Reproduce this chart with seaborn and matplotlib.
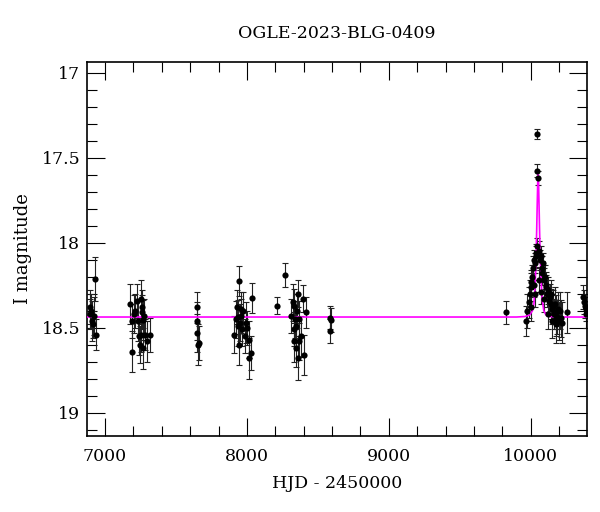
import numpy as np
import pandas as pd
import matplotlib
matplotlib.use("Agg")
import matplotlib.pyplot as plt
import seaborn as sns
from matplotlib.ticker import MultipleLocator

# ---- data ----
hjd = [6891, 6896, 6902, 6910, 6915, 6929, 6936, 6920,
       7176, 7188, 7192, 7205, 7212, 7224, 7230, 7236, 7254, 7258, 7262, 7266,
       7250, 7246, 7268, 7282, 7294, 7318, 7272,
       7647, 7651, 7649, 7663, 7658,
       7912, 7930, 7947, 7940, 7952, 7935, 7965, 7947, 7960, 7975, 7985, 8012,
       8018, 8030, 8035, 7925, 7955, 7990, 8000,
       8214, 8270,
       8311, 8324, 8330, 8357, 8340, 8345, 8335, 8329, 8364, 8360, 8395, 8400,
       8419, 8350, 8370, 8380, 8345,
       8588, 8590, 8583,
       9823,
       9965, 9975, 9985, 9993, 9999, 10005, 10011, 10016, 10022, 10028, 10035,
       10040, 10046, 10046, 10046, 10053, 10058, 10064, 10070, 10070, 10076,
       10081, 10087, 10093, 10099, 10105, 10111, 10117, 10122, 10128, 10134,
       10140, 10146, 10152, 10158, 10164, 10170, 10175, 10181, 10187, 10193,
       10200, 10205, 10211, 10222, 10253, 10030, 10020, 10060, 10090, 10120,
       10150, 10180, 10000,
       10365, 10376, 10382, 10388, 10392]
mag = [18.376, 18.42, 18.40, 18.46, 18.48, 18.215, 18.54, 18.43,
       18.36, 18.46, 18.64, 18.42, 18.40, 18.34, 18.46, 18.55, 18.33, 18.38, 18.41, 18.455,
       18.54, 18.60, 18.62, 18.54, 18.58, 18.54, 18.43,
       18.38, 18.46, 18.53, 18.59, 18.60,
       18.54, 18.377, 18.225, 18.435, 18.47, 18.49, 18.51, 18.60, 18.39, 18.40, 18.55, 18.57,
       18.68, 18.65, 18.325, 18.45, 18.43, 18.47, 18.50,
       18.37, 18.19,
       18.43, 18.35, 18.37, 18.30, 18.45, 18.49, 18.51, 18.58, 18.58, 18.68, 18.33, 18.66,
       18.41, 18.40, 18.45, 18.55, 18.62,
       18.44, 18.455, 18.52,
       18.41,
       18.46, 18.40, 18.35, 18.30, 18.26, 18.23, 18.20, 18.15, 18.10, 18.12, 18.06,
       18.08, 18.02, 17.36, 17.576, 17.62, 18.05, 18.10, 18.08, 18.29, 18.15,
       18.18, 18.12, 18.22, 18.20, 18.26, 18.25, 18.30, 18.28, 18.34, 18.32,
       18.36, 18.30, 18.39, 18.37, 18.42, 18.36, 18.41, 18.45, 18.435, 18.39,
       18.46, 18.40, 18.445, 18.47, 18.41, 18.30, 18.25, 18.22, 18.33, 18.42,
       18.46, 18.48, 18.38,
       18.32, 18.35, 18.37, 18.39, 18.42]
err = [0.10, 0.09, 0.10, 0.12, 0.08, 0.13, 0.09, 0.11,
       0.12, 0.10, 0.12, 0.11, 0.10, 0.10, 0.12, 0.11, 0.11, 0.10, 0.10, 0.12,
       0.10, 0.11, 0.12, 0.09, 0.12, 0.10, 0.10,
       0.09, 0.11, 0.11, 0.10, 0.12,
       0.11, 0.10, 0.09, 0.10, 0.11, 0.12, 0.10, 0.12, 0.10, 0.11, 0.10, 0.11,
       0.12, 0.10, 0.09, 0.11, 0.10, 0.12, 0.10,
       0.05, 0.07,
       0.10, 0.11, 0.10, 0.08, 0.11, 0.12, 0.10, 0.12, 0.11, 0.13, 0.08, 0.12,
       0.09, 0.10, 0.11, 0.12, 0.11,
       0.07, 0.07, 0.07,
       0.07,
       0.09, 0.10, 0.09, 0.08, 0.08, 0.07, 0.07, 0.07, 0.06, 0.06, 0.05,
       0.06, 0.05, 0.03, 0.04, 0.04, 0.06, 0.06, 0.06, 0.07, 0.07,
       0.07, 0.06, 0.07, 0.07, 0.07, 0.08, 0.08, 0.08, 0.08, 0.08,
       0.09, 0.08, 0.09, 0.09, 0.09, 0.10, 0.10, 0.10, 0.10, 0.10,
       0.11, 0.11, 0.11, 0.12, 0.12, 0.08, 0.07, 0.07, 0.08, 0.09,
       0.10, 0.11, 0.08,
       0.07, 0.07, 0.07, 0.07, 0.08]

model_t = [6875, 9900, 9960, 9992, 10012, 10022, 10028, 10034, 10038, 10042,
           10046, 10049, 10052, 10055, 10058, 10062, 10066, 10070, 10076,
           10082, 10092, 10107, 10132, 10200, 10395]
model_mag = [18.437, 18.437, 18.434, 18.425, 18.40, 18.36, 18.30, 18.18, 18.06,
             17.92, 17.76, 17.65, 17.595, 17.65, 17.76, 17.92, 18.06, 18.15,
             18.27, 18.34, 18.40, 18.425, 18.434, 18.437, 18.437]

title = "OGLE-2023-BLG-0409"
xlabel = "HJD - 2450000"
ylabel = "I magnitude"

# ---- plot ----
sns.set_theme(style="ticks")
plt.rcParams["font.family"] = ["DejaVu Serif"]
plt.rcParams["text.color"] = "black"
plt.rcParams["axes.labelcolor"] = "black"

fig = plt.figure(figsize=(6.0, 5.12), dpi=100)
ax = fig.add_axes([0.1455, 0.149, 0.8325, 0.730])

df = pd.DataFrame({"hjd": hjd, "mag": mag, "err": err})
mdf = pd.DataFrame({"t": model_t, "m": model_mag})

sns.lineplot(data=mdf, x="t", y="m", color="#ff00ff", lw=1.2, ax=ax,
             zorder=3, sort=False)
ax.errorbar(df["hjd"], df["mag"], yerr=df["err"], fmt="none",
            ecolor="#222222", elinewidth=0.8, capsize=2.3, capthick=0.8,
            zorder=2)
sns.scatterplot(data=df, x="hjd", y="mag", color="black", s=20,
                edgecolor="black", linewidth=0, ax=ax, zorder=4)

ax.set_xlim(6875, 10395)
ax.set_ylim(19.135, 16.937)

ax.xaxis.set_major_locator(MultipleLocator(1000))
ax.xaxis.set_minor_locator(MultipleLocator(200))
ax.yaxis.set_major_locator(MultipleLocator(0.5))
ax.yaxis.set_minor_locator(MultipleLocator(0.1))
ax.set_yticks([17, 17.5, 18, 18.5, 19])
ax.set_yticklabels(["17", "17.5", "18", "18.5", "19"])

ax.tick_params(which="both", direction="in", top=True, right=True,
               colors="black", labelsize=12.5)
ax.tick_params(which="major", length=13, width=0.8)
ax.tick_params(axis="x", which="major", pad=9)
ax.tick_params(axis="y", which="major", pad=5)
ax.tick_params(which="minor", length=7, width=0.8)

for s in ax.spines.values():
    s.set_linewidth(1.2)
    s.set_color("black")

ax.set_title(title, fontsize=12.5, pad=17, color="black")
ax.set_xlabel(xlabel, fontsize=12.5, labelpad=7, color="black")
ax.set_ylabel(ylabel, fontsize=13, labelpad=7, color="black")

fig.savefig("out.png", dpi=100)
